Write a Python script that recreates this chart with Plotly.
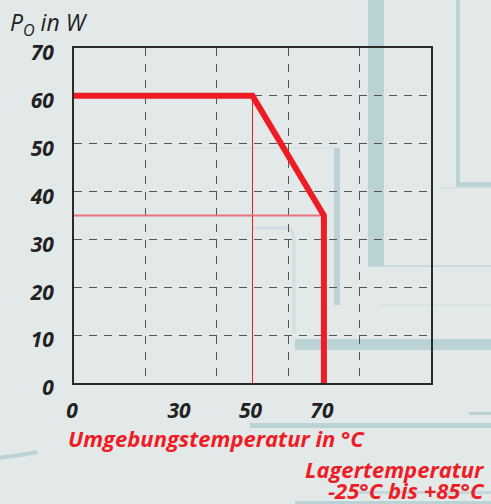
import plotly.graph_objects as go

# ---- data ----
temp_c = [0, 50, 70, 70]          # derating curve, ambient temperature (°C)
power_w = [60, 60, 35, 0]         # output power (W)
knee_x = [50, 50]
knee_y = [0, 60]
level_x = [0, 70]
level_y = [35, 35]
x_tick_vals = [0, 30, 50, 70]
x_tick_text = ["0", "30", "50", "70"]
x_grid_vals = [20, 40, 60, 80]
y_tick_vals = [0, 10, 20, 30, 40, 50, 60, 70]

# ---- layout constants ----
W, H = 491, 504
L, R, T, B = 74, 431, 48, 383
BG = "#e3e9e9"
TEAL = "#bcd3d6"
RED = "#ee1d25"
FONT = "Open Sans"


def px(x):
    return (x - L) / (R - L)


def py(y):
    return (B - y) / (B - T)


def rect(x0, y0, x1, y1, color=TEAL, opacity=1.0):
    return dict(type="rect", xref="paper", yref="paper", layer="below",
                x0=px(x0), x1=px(x1), y0=py(y1), y1=py(y0),
                fillcolor=color, line=dict(width=0), opacity=opacity)


shapes = [
    rect(368, -5, 384, 266),
    rect(368, 265, 495, 267, opacity=0.6),
    rect(456, -5, 460, 187),
    rect(456, 182, 495, 187),
    rect(440, 187, 495, 189, opacity=0.3),
    rect(334, 148, 340, 305),
    rect(193, 147, 334, 149, opacity=0.25),
    rect(380, 304, 495, 306, opacity=0.25),
    rect(295, 339, 495, 350),
    rect(250, 423, 495, 428),
    rect(469, 412, 495, 415),
    rect(357, 491, 495, 494, opacity=0.8),
    rect(295, 501, 495, 505),
    dict(type="path", xref="paper", yref="paper", layer="below",
         path=f"M{px(253)},{py(228)} L{px(285)},{py(228)} Q{px(294)},{py(229)} {px(294)},{py(240)} L{px(294)},{py(333)}",
         line=dict(color=TEAL, width=3), opacity=0.45),
    dict(type="path", xref="paper", yref="paper", layer="below",
         path=f"M{px(-2)},{py(458)} Q{px(18)},{py(456)} {px(37)},{py(452)}",
         line=dict(color=TEAL, width=4)),
]

fig = go.Figure()
fig.add_trace(go.Scatter(x=knee_x, y=knee_y, mode="lines",
                         line=dict(color=RED, width=1), hoverinfo="skip"))
fig.add_trace(go.Scatter(x=level_x, y=level_y, mode="lines",
                         line=dict(color="#e8737a", width=2), hoverinfo="skip"))
fig.add_trace(go.Scatter(x=temp_c, y=power_w, mode="lines",
                         line=dict(color=RED, width=6)))

tick_font = dict(family=FONT, size=21, color="#222222", weight="bold", style="italic")
red_font = dict(family=FONT, size=22, color=RED, weight="bold", style="italic")

fig.update_layout(
    width=W, height=H,
    margin=dict(l=L, r=W - R, t=T, b=H - B, pad=0),
    paper_bgcolor=BG, plot_bgcolor=BG,
    showlegend=False,
    shapes=shapes,
    xaxis=dict(
        range=[0, 100], tickvals=x_tick_vals, ticktext=x_tick_text,
        showgrid=False, zeroline=False, ticks="",
        showline=True, mirror=True, linecolor="#2a2a2a", linewidth=2,
        tickfont=tick_font, ticklabelstandoff=8, ticklabelshift=-2,
        minor=dict(tickvals=x_grid_vals, showgrid=True, gridcolor="#555555",
                   gridwidth=1.3, griddash="8px,8px", ticks=""),
    ),
    yaxis=dict(
        range=[0, 70], tickvals=y_tick_vals,
        showgrid=True, gridcolor="#555555", gridwidth=1.3, griddash="8px,7px",
        zeroline=False, ticks="",
        showline=True, mirror=True, linecolor="#2a2a2a", linewidth=2,
        tickfont=tick_font, ticklabelstandoff=14, ticklabelshift=5,
    ),
    annotations=[
        dict(text="P<sub>O</sub> in W", xref="paper", yref="paper",
             x=px(8), y=py(23), xanchor="left", yanchor="middle", showarrow=False,
             font=dict(family=FONT, size=23, color="#222222", style="italic")),
        dict(text="Umgebungstemperatur in °C", xref="paper", yref="paper",
             x=px(66), y=py(438), xanchor="left", yanchor="middle", showarrow=False,
             font=red_font),
        dict(text="Lagertemperatur", xref="paper", yref="paper",
             x=px(487), y=py(469), xanchor="right", yanchor="middle", showarrow=False,
             font=red_font),
        dict(text="-25°C bis +85°C", xref="paper", yref="paper",
             x=px(487), y=py(490), xanchor="right", yanchor="middle", showarrow=False,
             font=red_font),
    ],
)

fig.write_html("out.html", post_script="document.body.style.margin='0';",
               config={"displayModeBar": False})
